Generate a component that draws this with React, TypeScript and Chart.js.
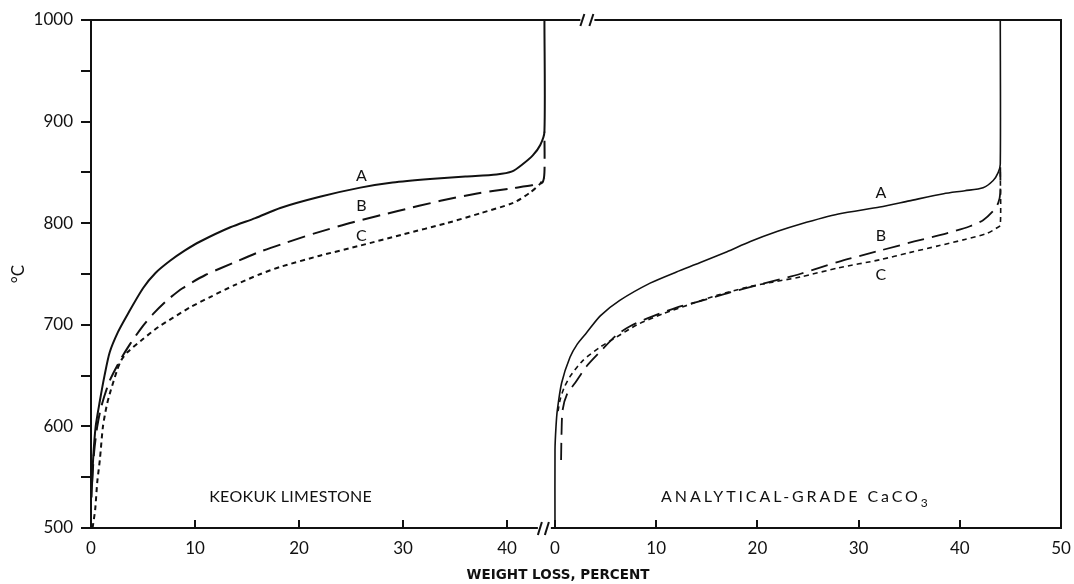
import React, { useEffect, useRef } from 'react';
import { Chart, registerables } from 'chart.js';

Chart.register(...registerables);

// ---------- data ----------
// Left panel: Keokuk limestone (weight loss %, temperature °C)
const keokukA: number[][] = [
  [0.05, 530], [0.2, 567], [0.45, 600], [0.85, 625], [1.3, 650], [1.8, 673], [2.6, 693],
  [3.5, 710], [5, 736], [6.2, 751], [7.6, 763], [9, 773], [10.5, 782], [13.4, 796],
  [15.8, 805], [18.2, 815], [22, 826], [25.9, 835], [29, 840], [32.6, 843.5], [36, 846],
  [39, 848], [40.5, 851], [41.5, 858], [42.5, 867], [43.2, 877], [43.6, 890], [43.6, 1000],
];
const keokukB: number[][] = [
  [0.1, 545], [0.3, 575], [0.6, 600], [1.0, 620], [1.8, 645], [2.8, 665], [3.75, 681],
  [5, 699], [6, 711], [7.3, 724], [8.8, 736], [11, 749], [13.7, 761], [16, 771], [18.8, 781],
  [21.5, 790], [25.2, 801], [29.5, 812], [33.6, 822], [37, 829], [40.6, 834.5], [42.5, 837.5],
  [43.4, 840], [43.6, 850], [43.6, 890],
];
const keokukC: number[][] = [
  [0.15, 500], [0.4, 518], [0.6, 545], [0.85, 567], [1.15, 600], [1.5, 620], [1.8, 632],
  [2.5, 655], [2.9, 665], [3.5, 673], [5, 686], [6.5, 698], [7.9, 707], [9.5, 717],
  [11.4, 727], [13.8, 739], [16.3, 750], [18.2, 757], [22, 768], [25.9, 778], [30, 789],
  [34.2, 800], [37.5, 810], [40.6, 820], [42.2, 830], [43.2, 839], [43.6, 845],
];

// Right panel: analytical-grade CaCO3
const caco3A: number[][] = [
  [0, 500], [0, 577], [0.1, 600], [0.23, 616], [0.66, 643], [1.48, 668], [2.2, 681],
  [3.1, 692], [4.5, 709], [6.4, 724], [9.4, 741], [12, 752], [14.3, 761], [17, 772],
  [19.3, 782], [22, 792], [24.2, 799], [28, 809], [32.1, 816], [35, 822], [38.4, 829],
  [40.5, 832], [42.3, 835], [43.3, 842], [43.8, 850], [44, 858], [44, 1000],
];
const caco3B: number[][] = [
  [0.6, 567], [0.65, 595], [0.75, 616], [1.2, 632], [2.0, 643], [3.1, 659], [4.6, 675],
  [6.1, 690], [7.5, 699], [9.06, 706], [12, 717], [14.6, 724], [17, 731], [20, 739],
  [24.2, 750], [28, 762], [32.1, 773], [35.5, 782], [38.7, 790], [41, 797], [42.3, 803],
  [43.3, 812], [43.8, 820], [44, 830], [44, 855],
];
const caco3C: number[][] = [
  [0.3, 615], [0.5, 626], [0.9, 638], [1.48, 649], [2.77, 665], [4.45, 678], [6.1, 688],
  [8.1, 700], [10.7, 711], [13.6, 721], [16, 729], [19, 737], [21.5, 742], [24.2, 747],
  [28, 756], [32.1, 764], [35, 771], [38, 778], [40.5, 784], [42.7, 790], [43.6, 795],
  [44, 798], [44, 852],
];

// Tick labels
const leftXTicks = [0, 10, 20, 30, 40];
const rightXTicks = [0, 10, 20, 30, 40, 50];
const yMin = 500;
const yMax = 1000;
const yStep = 50;
const yLabelStep = 100;

// Curve labels: [panel, x, temperature, text]
const curveLabels: [string, number, number, string][] = [
  ['L', 26.0, 847, 'A'], ['L', 26.0, 817, 'B'], ['L', 26.0, 788, 'C'],
  ['R', 32.2, 830, 'A'], ['R', 32.2, 788, 'B'], ['R', 32.2, 749, 'C'],
];
// [panel, x, temperature, text, subscript, letterSpacing]
const panelTitles: [string, number, number, string, string, number][] = [
  ['L', 19.2, 530.5, 'KEOKUK LIMESTONE', '', 0.3],
  ['R', 23.8, 530.5, 'ANALYTICAL-GRADE CaCO', '3', 2.9],
];

// ---------- axis ranges (both x scales span the same pixels) ----------
const X_LEFT_MIN = 0;
const X_LEFT_MAX = 93.27;
const X_RIGHT_MIN = -45.85;
const X_RIGHT_MAX = 50;

const INK = '#111';
const FONT = 'Lato, "DejaVu Sans", sans-serif';

const rightToLeft = (v: number) =>
  ((v - X_RIGHT_MIN) / (X_RIGHT_MAX - X_RIGHT_MIN)) * (X_LEFT_MAX - X_LEFT_MIN) + X_LEFT_MIN;

const xTickValues = [...leftXTicks, ...rightXTicks.map(rightToLeft)];
const xTickLabels = [...leftXTicks, ...rightXTicks].map(String);

const toPts = (arr: number[][]) => arr.map(([x, y]) => ({ x, y }));

const decor = {
  id: 'decor',
  afterDraw(chart: any) {
    const { ctx, chartArea: a, scales } = chart;
    const xL = scales.xL;
    const xR = scales.xR;
    const y = scales.y;
    ctx.save();
    ctx.strokeStyle = INK;
    ctx.lineWidth = 2;
    const line = (x1: number, y1: number, x2: number, y2: number) => {
      ctx.beginPath();
      ctx.moveTo(x1, y1);
      ctx.lineTo(x2, y2);
      ctx.stroke();
    };
    const topBreak = xR.getPixelForValue(3.2);
    const botBreak = xR.getPixelForValue(-1.0);
    // frame
    line(a.left, a.top, topBreak - 7, a.top);
    line(topBreak + 7, a.top, a.right, a.top);
    line(a.left - 1, a.bottom, botBreak - 7, a.bottom);
    line(botBreak + 6, a.bottom, a.right + 1, a.bottom);
    line(a.right, a.top - 1, a.right, a.bottom);
    // break marks
    line(topBreak - 7, a.top + 6, topBreak - 3, a.top - 6);
    line(topBreak + 2, a.top + 6, topBreak + 6, a.top - 6);
    line(botBreak - 7, a.bottom + 7, botBreak - 3, a.bottom - 6);
    line(botBreak, a.bottom + 7, botBreak + 4, a.bottom - 6);
    // texts
    ctx.fillStyle = INK;
    ctx.textBaseline = 'middle';
    ctx.textAlign = 'center';
    ctx.font = `16px ${FONT}`;
    for (const [p, x, t, s] of curveLabels) {
      const sx = p === 'L' ? xL.getPixelForValue(x) : xR.getPixelForValue(x);
      ctx.fillText(s, sx, y.getPixelForValue(t));
    }
    for (const [p, x, t, s, sub, ls] of panelTitles) {
      const sx = p === 'L' ? xL.getPixelForValue(x) : xR.getPixelForValue(x);
      const sy = y.getPixelForValue(t);
      (ctx as any).letterSpacing = `${ls}px`;
      ctx.font = `16px ${FONT}`;
      const w = ctx.measureText(s).width;
      ctx.font = `12px ${FONT}`;
      const ws = sub ? ctx.measureText(sub).width : 0;
      const x0 = sx - (w + ws) / 2;
      ctx.textAlign = 'left';
      ctx.font = `16px ${FONT}`;
      ctx.fillText(s, x0, sy);
      if (sub) {
        ctx.font = `12px ${FONT}`;
        ctx.fillText(sub, x0 + w, sy + 6);
      }
      (ctx as any).letterSpacing = '0px';
    }
    // x-axis title
    ctx.textAlign = 'center';
    ctx.font = `bold 13.5px "DejaVu Sans", sans-serif`;
    ctx.fillText('WEIGHT LOSS, PERCENT', xR.getPixelForValue(0.3), a.bottom + 47);
    ctx.restore();
  },
};

export default function App() {
  const ref = useRef<HTMLCanvasElement>(null);
  useEffect(() => {
    const canvas = ref.current;
    if (!canvas) return;
    const common = { pointRadius: 0, fill: false, tension: 0.25, borderColor: INK, yAxisID: 'y' };
    const chart = new Chart(canvas, {
      type: 'line',
      data: {
        datasets: [
          { ...common, label: 'Keokuk C', data: toPts(keokukC), xAxisID: 'xL', borderWidth: 2, borderDash: [5, 4] },
          { ...common, label: 'Keokuk B', data: toPts(keokukB), xAxisID: 'xL', borderWidth: 2, borderDash: [18, 8] },
          { ...common, label: 'Keokuk A', data: toPts(keokukA), xAxisID: 'xL', borderWidth: 2 },
          { ...common, label: 'CaCO3 C', data: toPts(caco3C), xAxisID: 'xR', borderWidth: 1.6, borderDash: [5, 4] },
          { ...common, label: 'CaCO3 B', data: toPts(caco3B), xAxisID: 'xR', borderWidth: 1.8, borderDash: [17, 8] },
          { ...common, label: 'CaCO3 A', data: toPts(caco3A), xAxisID: 'xR', borderWidth: 1.6 },
        ] as any,
      },
      options: {
        responsive: false,
        animation: false,
        devicePixelRatio: 1,
        layout: { padding: { top: 20, right: 13, left: 0, bottom: 0 } },
        plugins: { legend: { display: false }, tooltip: { enabled: false } },
        scales: {
          xL: {
            type: 'linear',
            position: 'bottom',
            min: X_LEFT_MIN,
            max: X_LEFT_MAX,
            afterFit: (s: any) => {
              s.height = 56;
              s.paddingRight = 0;
              s.paddingLeft = 0;
            },
            afterBuildTicks: (s: any) => { s.ticks = xTickValues.map((v) => ({ value: v })); },
            ticks: {
              autoSkip: false,
              maxRotation: 0,
              padding: 18,
              color: INK,
              font: { family: FONT, size: 17 },
              callback: (_v: any, i: number) => xTickLabels[i],
            },
            grid: { drawOnChartArea: false, drawTicks: true, tickLength: -8, color: INK, lineWidth: 2 },
            border: { display: false },
          },
          xR: {
            type: 'linear',
            display: false,
            min: X_RIGHT_MIN,
            max: X_RIGHT_MAX,
          },
          y: {
            type: 'linear',
            position: 'left',
            min: yMin,
            max: yMax,
            afterFit: (s: any) => { s.width = 91; },
            ticks: {
              stepSize: yStep,
              autoSkip: false,
              padding: 8,
              color: INK,
              font: { family: FONT, size: 17 },
              callback: (v: any) => (Number(v) % yLabelStep === 0 ? String(v) : ''),
            },
            grid: { drawOnChartArea: false, drawTicks: true, tickLength: 10, color: INK, lineWidth: 2 },
            border: { display: true, color: INK, width: 2 },
            title: { display: true, text: '°C', color: INK, font: { family: FONT, size: 17 }, padding: { top: 8, bottom: 0 } },
          },
        } as any,
      },
      plugins: [decor],
    });
    return () => chart.destroy();
  }, []);
  return (
    <div style={{ position: 'fixed', left: 0, top: 0, width: 1074, height: 584, background: '#fff' }}>
      <canvas ref={ref} width={1074} height={584} style={{ display: 'block' }} />
    </div>
  );
}
